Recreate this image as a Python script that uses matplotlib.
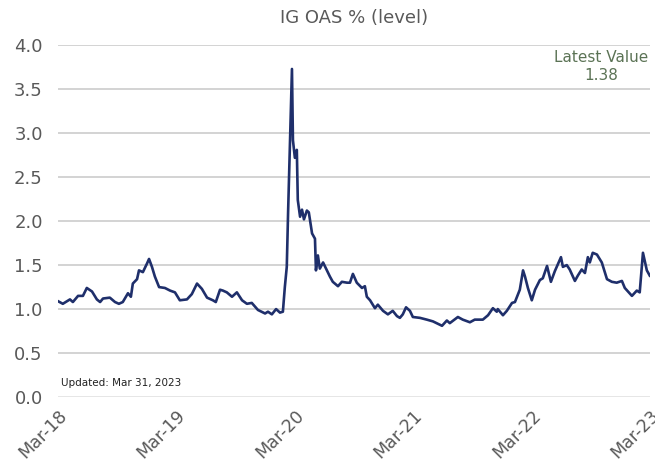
import pandas as pd
import matplotlib
matplotlib.use('Agg')
import matplotlib.pyplot as plt

# IG OAS level
dates = [
    "2018-03-31", "2018-04-15", "2018-05-07", "2018-05-16", "2018-06-01", "2018-06-16",
    "2018-06-28", "2018-07-14", "2018-07-29", "2018-08-08", "2018-08-17", "2018-09-07",
    "2018-09-23", "2018-10-05", "2018-10-17", "2018-11-02", "2018-11-11", "2018-11-17",
    "2018-11-30", "2018-12-06", "2018-12-18", "2018-12-31", "2019-01-06", "2019-01-15",
    "2019-01-24", "2019-02-06", "2019-02-24", "2019-03-12", "2019-03-27", "2019-04-11",
    "2019-05-03", "2019-05-18", "2019-06-03", "2019-06-18", "2019-07-04", "2019-07-22",
    "2019-07-31", "2019-08-13", "2019-08-22", "2019-09-03", "2019-09-19", "2019-10-04",
    "2019-10-20", "2019-11-04", "2019-11-19", "2019-12-08", "2019-12-30", "2020-01-08",
    "2020-01-20", "2020-02-02", "2020-02-14", "2020-02-23", "2020-02-29", "2020-03-06",
    "2020-03-10", "2020-03-22", "2020-03-25", "2020-03-31", "2020-04-06", "2020-04-09",
    "2020-04-16", "2020-04-22", "2020-04-28", "2020-05-07", "2020-05-13", "2020-05-23",
    "2020-06-01", "2020-06-04", "2020-06-10", "2020-06-16", "2020-06-26", "2020-07-08",
    "2020-07-17", "2020-07-26", "2020-08-11", "2020-08-23", "2020-09-08", "2020-09-17",
    "2020-09-26", "2020-10-08", "2020-10-24", "2020-11-02", "2020-11-08", "2020-11-18",
    "2020-12-03", "2020-12-12", "2020-12-28", "2021-01-12", "2021-01-27", "2021-02-09",
    "2021-02-18", "2021-02-27", "2021-03-09", "2021-03-21", "2021-03-30", "2021-04-21",
    "2021-05-12", "2021-05-31", "2021-06-28", "2021-07-13", "2021-07-22", "2021-08-16",
    "2021-08-31", "2021-09-22", "2021-10-07", "2021-11-01", "2021-11-17", "2021-12-02",
    "2021-12-14", "2021-12-17", "2022-01-02", "2022-01-14", "2022-01-30", "2022-02-08",
    "2022-02-23", "2022-03-05", "2022-03-11", "2022-03-20", "2022-04-01", "2022-04-11",
    "2022-04-26", "2022-05-05", "2022-05-18", "2022-05-30", "2022-06-11", "2022-06-30",
    "2022-07-06", "2022-07-18", "2022-07-27", "2022-08-12", "2022-08-21", "2022-09-02",
    "2022-09-12", "2022-09-21", "2022-09-27", "2022-10-06", "2022-10-19", "2022-11-03",
    "2022-11-19", "2022-12-04", "2022-12-19", "2023-01-04", "2023-01-13", "2023-02-04",
    "2023-02-19", "2023-02-28", "2023-03-10", "2023-03-22", "2023-03-31",
]
oas = [
    1.09, 1.06, 1.11, 1.08, 1.15, 1.15,
    1.24, 1.20, 1.11, 1.08, 1.12, 1.13,
    1.08, 1.06, 1.08, 1.18, 1.14, 1.29,
    1.34, 1.44, 1.42, 1.52, 1.57, 1.48,
    1.37, 1.25, 1.24, 1.21, 1.19, 1.10,
    1.11, 1.17, 1.29, 1.23, 1.13, 1.10,
    1.08, 1.22, 1.21, 1.19, 1.14, 1.19,
    1.10, 1.06, 1.07, 0.99, 0.95, 0.97,
    0.94, 1.00, 0.96, 0.97, 1.25, 1.48,
    2.09, 3.73, 2.92, 2.72, 2.81, 2.24,
    2.05, 2.13, 2.02, 2.12, 2.10, 1.86,
    1.80, 1.44, 1.61, 1.46, 1.53, 1.44,
    1.37, 1.31, 1.26, 1.31, 1.30, 1.30,
    1.40, 1.30, 1.24, 1.26, 1.14, 1.10,
    1.01, 1.05, 0.98, 0.94, 0.98, 0.92,
    0.90, 0.94, 1.02, 0.98, 0.91, 0.90,
    0.88, 0.86, 0.81, 0.87, 0.84, 0.91,
    0.88, 0.85, 0.88, 0.88, 0.93, 1.01,
    0.97, 1.00, 0.93, 0.98, 1.07, 1.08,
    1.22, 1.44, 1.37, 1.24, 1.10, 1.22,
    1.33, 1.35, 1.49, 1.31, 1.43, 1.59,
    1.48, 1.50, 1.45, 1.32, 1.38, 1.45,
    1.41, 1.59, 1.53, 1.64, 1.62, 1.53,
    1.34, 1.31, 1.30, 1.32, 1.24, 1.15,
    1.21, 1.19, 1.64, 1.44, 1.38,
]
tick_dates = ["2018-03-31", "2019-03-31", "2020-03-31", "2021-03-31", "2022-03-31", "2023-03-31"]
tick_labels = ["Mar-18", "Mar-19", "Mar-20", "Mar-21", "Mar-22", "Mar-23"]
latest = oas[-1]

text_grey = "#595959"
line_col = "#1F2F6B"

fig = plt.figure(figsize=(6.55, 4.66), dpi=100)
ax = fig.add_axes([0.0885, 0.148, 0.9035, 0.755])

x = pd.to_datetime(dates)
ax.plot(x, oas, color=line_col, linewidth=1.9, solid_joinstyle="round", zorder=3)

ax.set_ylim(0, 4.0)
ax.set_xlim(pd.Timestamp(tick_dates[0]), pd.Timestamp(tick_dates[-1]))
ax.set_yticks([0, 0.5, 1.0, 1.5, 2.0, 2.5, 3.0, 3.5, 4.0])
ax.set_yticklabels([f"{v:.1f}" for v in ax.get_yticks()])
ax.set_xticks(pd.to_datetime(tick_dates))
ax.set_xticklabels(tick_labels, rotation=45, ha="right", rotation_mode="anchor")

ax.grid(axis="y", color="#d0d0d0", linewidth=1.3)
ax.get_ygridlines()[0].set_color("#e4e4e4")
ax.set_axisbelow(True)
for s in ax.spines.values():
    s.set_visible(False)
ax.tick_params(axis="both", length=0, colors=text_grey, labelsize=13)
ax.tick_params(axis="y", pad=11)
ax.tick_params(axis="x", pad=7, labelsize=12.5)

fig.text(0.54, 0.962, "IG OAS % (level)", ha="center", va="center",
         fontsize=13, color=text_grey)

ax.text(0.998, 0.985, f"Latest Value\n{latest:.2f}", transform=ax.transAxes,
        ha="right", va="top", multialignment="center", fontsize=11,
        color="#5B7355", linespacing=1.25)

ax.text(0.005, 0.025, "Updated: Mar 31, 2023", transform=ax.transAxes,
        ha="left", va="bottom", fontsize=7.5, color="#222222")

plt.savefig("out.png", dpi=100)
plt.close()
